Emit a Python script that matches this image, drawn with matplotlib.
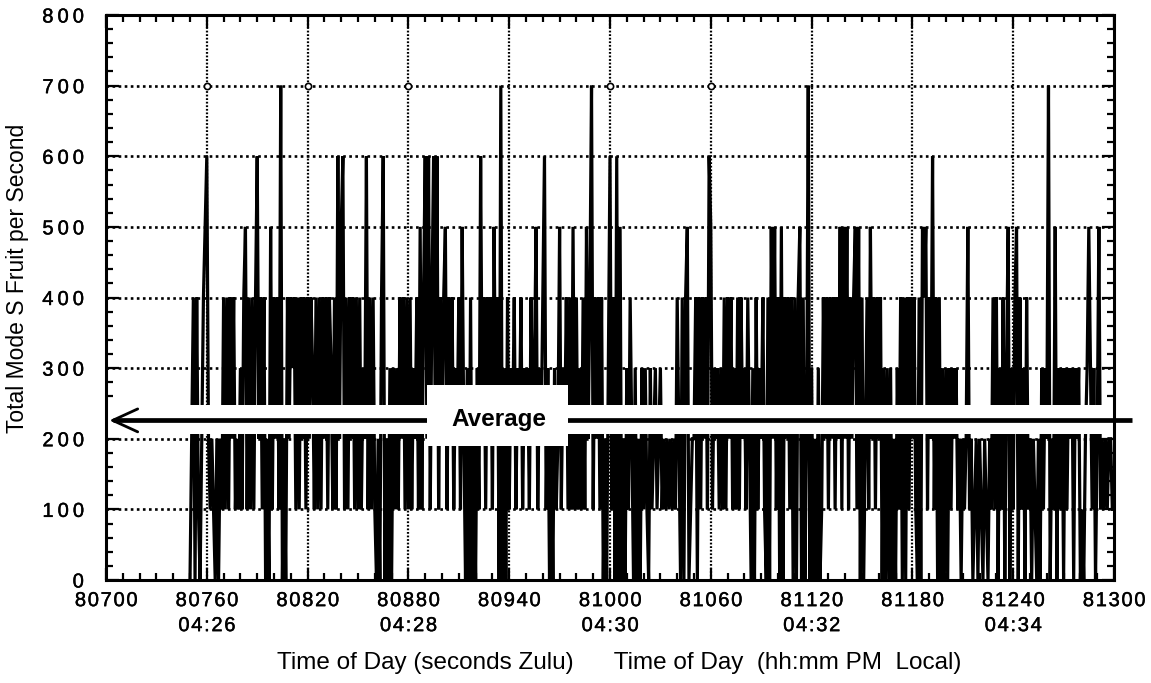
import numpy as np
import matplotlib
matplotlib.use("Agg")
import matplotlib.pyplot as plt
import matplotlib.patheffects as pe
from matplotlib.ticker import MultipleLocator, FixedLocator
from matplotlib.patches import Rectangle

# ---------------- data (values in hundreds of fruit/s, one per second) ----------------
start_time = 80750
seg_80750 = [0,2,4,0,4,1,0,2,4,5, 6,2,1,2,1,0,2,0,2,1, 4,1,4,1,4,2,4,1,2,1,
             3,1,4,5,1,4,1,4,1,4, 6,2,4,1,4,0,2,0,5,1, 4,2,4,1,7,0,2,0,4,2]
seg_80810 = [4,3,4,1,4,1,4,2,4,1, 4,2,4,3,1,4,1,4,1,4, 2,4,1,4,3,1,4,1,6,2,
             5,6,1,4,1,4,2,4,1,4, 1,4,1,3,2,6,1,4,1,4, 1,0,2,0,4,6,0,2,0,3]
seg_80870 = [0,3,1,3,1,4,2,4,1,4, 1,4,1,3,2,4,1,5,1,4, 6,2,6,1,4,6,2,6,1,4,
             2,4,5,1,4,2,4,1,3,2, 4,1,5,2,0,3,0,4,0,2, 0,3,1,6,2,4,1,4,2,4]
seg_80930 = [1,5,2,4,0,7,0,3,0,4, 1,3,2,4,1,3,2,4,1,3, 2,3,1,4,2,3,5,1,3,2,
             4,6,1,3,0,2,0,3,1,2, 5,1,3,2,4,1,4,1,5,1, 4,1,3,1,4,1,5,2,4,7]
seg_80990 = [1,4,2,4,1,4,0,2,0,3, 6,1,4,0,6,0,5,0,2,0, 3,1,4,2,0,3,0,2,0,3,
             1,3,1,0,3,1,2,3,1,2, 3,1,2,1,2,1,2,1,2,1, 4,2,0,4,0,4,5,0,1,2]
seg_81050 = [2,4,0,4,1,4,2,4,1,6, 5,1,3,2,3,1,3,1,4,1, 4,2,4,1,3,1,4,1,4,2,
             3,1,4,2,0,3,0,4,1,3, 2,4,1,0,4,0,5,2,5,1, 4,0,5,0,4,2,4,1,4,0]
seg_81110 = [4,0,4,5,0,4,0,2,7,0, 3,0,2,0,3,0,1,4,2,4, 1,4,2,4,1,4,2,5,1,5,
             2,5,1,4,2,4,5,1,5,0, 4,0,2,4,1,5,2,4,1,4, 2,4,0,3,0,3,0,3,0,2]
seg_81170 = [0,3,1,4,0,4,0,4,1,4, 2,4,1,0,4,0,5,4,5,1, 4,2,6,1,4,0,4,0,3,0,
             3,0,3,1,3,2,3,1,2,0, 2,1,2,5,1,2,0,1,2,0, 2,1,0,2,1,0,2,1,4,1]
seg_81230 = [4,0,3,1,4,0,3,5,0,3, 1,4,5,0,4,1,3,0,4,1, 2,0,2,1,0,2,0,3,1,3,
             2,7,0,2,1,5,0,3,1,3, 0,3,1,3,2,3,0,3,2,3, 0,1,0,2,3,5,3,1,3,0,
             2,5,1,2,1,2,1,2,2,1, 1]

average_value = 226
x_min, x_max = 80700, 81300
y_min, y_max = 0, 800
x_major_ticks = [80700, 80760, 80820, 80880, 80940, 81000, 81060, 81120, 81180, 81240, 81300]
x_tick_labels = ["80700", "80760\n04:26", "80820", "80880\n04:28", "80940", "81000\n04:30",
                 "81060", "81120\n04:32", "81180", "81240\n04:34", "81300"]
y_major_ticks = [0, 100, 200, 300, 400, 500, 600, 700, 800]
circle_marks_x = [80760, 80820, 80880, 81000, 81060]

# ---------------- build series ----------------
values = np.array(seg_80750 + seg_80810 + seg_80870 + seg_80930 + seg_80990 +
                  seg_81050 + seg_81110 + seg_81170 + seg_81230) * 100
times = start_time + np.arange(len(values))

FAM = ["Liberation Sans", "DejaVu Sans"]
plt.rcParams["font.family"] = FAM
thick = [pe.withStroke(linewidth=0.3, foreground="black")]

def spaced(s, sp="\u200a"):
    return "\n".join(sp.join(line) for line in s.split("\n"))

fig = plt.figure(figsize=(11.51, 6.83), dpi=100)
ax = fig.add_axes([106/1151, 1 - 580/683, (1114-106)/1151, (580-15)/683])

ax.set_xlim(x_min, x_max)
ax.set_ylim(y_min, y_max)

# grid
for gx in x_major_ticks[1:-1]:
    ax.axvline(gx, color="black", lw=1.6, ls=(0, (0.8, 0.8)), zorder=1)
for gy in y_major_ticks[1:-1]:
    ax.axhline(gy, color="black", lw=1.9, ls=(0, (1.0, 1.3)), zorder=1)
ax.scatter(circle_marks_x, [700]*len(circle_marks_x), s=20, facecolor="white",
           edgecolor="black", linewidth=1.2, zorder=1.2)

# data
ax.plot(times, values, color="black", lw=2.3, zorder=2, solid_joinstyle="miter")

# white band around the average
ax.add_patch(Rectangle((x_min, 207), x_max - x_min, 41, facecolor="white",
                       edgecolor="none", zorder=3))

# average arrow
ax.plot([80704, 81311], [average_value, average_value], color="black", lw=3.4,
        zorder=4, clip_on=False, solid_capstyle="butt")
ax.annotate("", xy=(80702, average_value), xytext=(80725, average_value),
            arrowprops=dict(arrowstyle="->,head_length=1.2,head_width=0.55",
                            lw=2.0, color="black", mutation_scale=15,
                            shrinkA=0, shrinkB=0),
            zorder=4)

# Average label box
ax.add_patch(Rectangle((80891, 190), 84, 86, facecolor="white", edgecolor="none", zorder=5))
ax.text(80934, 227, "Average", ha="center", va="center", fontsize=17.5,
        fontweight="bold", zorder=6, family=FAM)

# ticks
ax.xaxis.set_major_locator(FixedLocator(x_major_ticks))
ax.xaxis.set_minor_locator(MultipleLocator(10))
ax.yaxis.set_major_locator(FixedLocator(y_major_ticks))
ax.yaxis.set_minor_locator(MultipleLocator(20))
ax.set_xticklabels([spaced(l) for l in x_tick_labels])
ax.set_yticklabels([spaced(str(v), "\u2009") for v in y_major_ticks])
ax.tick_params(which="both", direction="in", top=True, right=True, width=1.6, colors="black")
ax.tick_params(which="major", length=9)
ax.tick_params(which="minor", length=5)
ax.tick_params(axis="x", which="major", labelsize=14.5, pad=8)
ax.tick_params(axis="y", which="major", labelsize=14.5, pad=16)
for lab in ax.get_xticklabels() + ax.get_yticklabels():
    lab.set_linespacing(1.4)
    lab.set_path_effects(thick)

for sp in ax.spines.values():
    sp.set_linewidth(2.2)
    sp.set_zorder(10)

fig.text(619/1151, 1 - 663/683,
         "Time of Day (seconds Zulu)      Time of Day  (hh:mm PM  Local)",
         ha="center", va="center", fontsize=17.5)
fig.text(18/1151, 1 - 278/683, "Total Mode S Fruit per Second", rotation=90,
         ha="center", va="center", fontsize=16.5)

fig.savefig("out.png", dpi=100)
